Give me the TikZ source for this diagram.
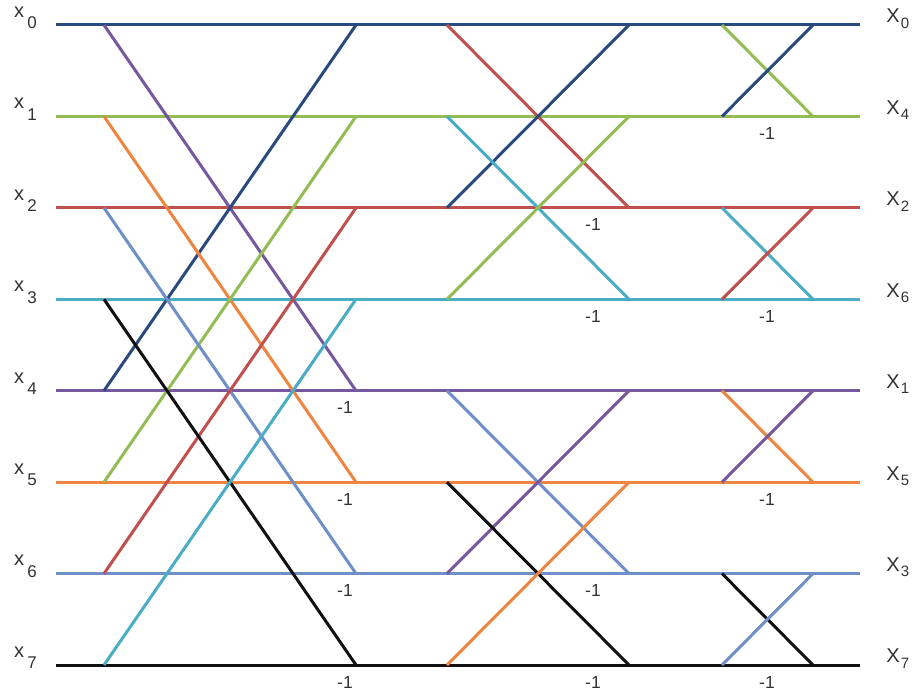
\documentclass[tikz,border=0pt]{standalone}
\usepackage{fontspec}
\setmainfont{Liberation Sans}
\definecolor{rc0}{HTML}{2A4A7F}
\definecolor{rc1}{HTML}{93BC55}
\definecolor{rc2}{HTML}{C0504D}
\definecolor{rc3}{HTML}{4BACC6}
\definecolor{rc4}{HTML}{7558A0}
\definecolor{rc5}{HTML}{EE8540}
\definecolor{rc6}{HTML}{6F8FC8}
\definecolor{rc7}{HTML}{111111}
\definecolor{txt}{HTML}{333333}
\begin{document}
\begin{tikzpicture}[x=1pt,y=-1pt,
  wire/.style={line width=3pt},
  inlbl/.style={font=\fontsize{20}{20}\selectfont, text=txt, inner sep=0pt},
  insub/.style={font=\fontsize{17}{17}\selectfont, text=txt, inner sep=0pt},
  outlbl/.style={font=\fontsize{20}{20}\selectfont, text=txt, inner sep=0pt},
  outsub/.style={font=\fontsize{15}{15}\selectfont, text=txt, inner sep=0pt},
  neg/.style={font=\fontsize{17.5}{17.5}\selectfont, text=txt, inner sep=0pt}]
\useasboundingbox[fill=white] (0,0) rectangle (914,692);
% grid coordinates
\foreach \i in {0,...,7} {
  \pgfmathsetmacro\yy{25+91.43*\i}
  \coordinate (L\i) at (56,\yy);
  \coordinate (A\i) at (104,\yy);
  \coordinate (B\i) at (356,\yy);
  \coordinate (C\i) at (447,\yy);
  \coordinate (D\i) at (629,\yy);
  \coordinate (E\i) at (722,\yy);
  \coordinate (F\i) at (813,\yy);
  \coordinate (R\i) at (860,\yy);
}
% horizontal wires
\foreach \i in {0,...,7} {
  \draw[wire, rc\i] (L\i) -- (R\i);
}
% stage 1
\foreach \i in {0,...,3} {
  \pgfmathtruncatemacro\j{\i+4}
  \draw[wire, rc\j] (A\i) -- (B\j);
  \draw[wire, rc\i] (A\j) -- (B\i);
}
% stage 2
\foreach \p/\q in {0/2,1/3,4/6,5/7} {
  \draw[wire, rc\q] (C\p) -- (D\q);
  \draw[wire, rc\p] (C\q) -- (D\p);
}
% stage 3
\foreach \p/\q in {0/1,2/3,4/5,6/7} {
  \draw[wire, rc\q] (E\p) -- (F\q);
  \draw[wire, rc\p] (E\q) -- (F\p);
}
% input labels
\foreach \i in {0,...,7} {
  \node[inlbl] (xin\i) at ([shift={(-37,-13)}]L\i) {x};
  \node[insub] (sin\i) at ([shift={(-24,-2)}]L\i) {\i};
}
% output labels
\foreach \i/\k in {0/0,1/4,2/2,3/6,4/1,5/5,6/3,7/7} {
  \node[outlbl] (Xout\i) at ([shift={(33,-9)}]R\i) {X};
  \node[outsub] (sout\i) at ([shift={(45,-2)}]R\i) {\k};
}
% -1 labels
\foreach \i in {4,5,6,7} {
  \node[neg] (na\i) at ([shift={(-11,17)}]B\i) {-1};
}
\foreach \i in {2,3,6,7} {
  \node[neg] (nb\i) at ([shift={(-36,17)}]D\i) {-1};
}
\foreach \i in {1,3,5,7} {
  \node[neg] (nc\i) at ([shift={(-46,17)}]F\i) {-1};
}
\end{tikzpicture}
\end{document}
